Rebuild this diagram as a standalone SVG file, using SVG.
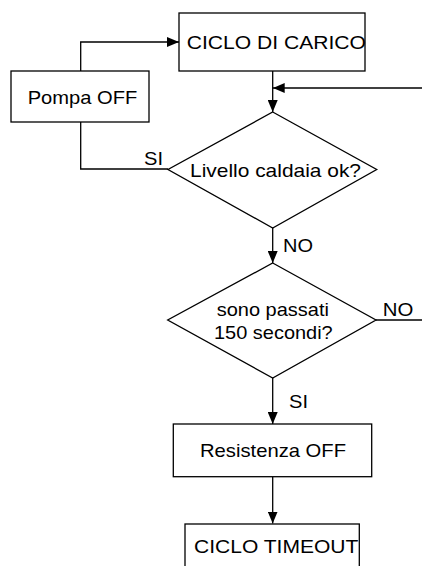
<svg xmlns="http://www.w3.org/2000/svg" width="422" height="566" viewBox="0 0 422 566">
<style>
.shape{fill:#fff;stroke:#000;stroke-width:1.3}
.line{fill:none;stroke:#000;stroke-width:1.3}
text{font-family:"Liberation Sans",Arial,sans-serif;font-size:18.6px;fill:#000}
</style>
<defs>
<marker id="arr" viewBox="0 0 12 10" refX="12" refY="5" markerWidth="12" markerHeight="10" markerUnits="userSpaceOnUse" orient="auto">
<path d="M0,0 L12,5 L0,10 z" fill="#000"/>
</marker>
</defs>
<rect width="422" height="566" fill="#fff"/>
<g id="connectors">
<polyline class="line" points="80.7,71 80.7,42 179,42" marker-end="url(#arr)"/>
<polyline class="line" points="80.7,122 80.7,169 168,169"/>
<line class="line" x1="272.7" y1="71" x2="272.7" y2="112" marker-end="url(#arr)"/>
<line class="line" x1="422" y1="88" x2="272.7" y2="88" marker-end="url(#arr)"/>
<line class="line" x1="272.7" y1="228" x2="272.7" y2="263" marker-end="url(#arr)"/>
<line class="line" x1="376" y1="320" x2="422" y2="320"/>
<line class="line" x1="272.7" y1="378" x2="272.7" y2="424" marker-end="url(#arr)"/>
<line class="line" x1="272.7" y1="477" x2="272.7" y2="523.5" marker-end="url(#arr)"/>
<text x="144" y="164.5" textLength="19" lengthAdjust="spacingAndGlyphs">SI</text>
<text x="283" y="251.5" textLength="30" lengthAdjust="spacingAndGlyphs">NO</text>
<text x="382.7" y="316" textLength="30.6" lengthAdjust="spacingAndGlyphs">NO</text>
<text x="289" y="408.3" textLength="19" lengthAdjust="spacingAndGlyphs">SI</text>
</g>
<g id="ciclo-carico">
<rect class="shape" x="179" y="13" width="186" height="58"/>
<text x="186.7" y="49" textLength="179.3" lengthAdjust="spacingAndGlyphs">CICLO DI CARICO</text>
</g>
<g id="pompa-off">
<rect class="shape" x="11" y="71" width="138" height="51"/>
<text x="27.7" y="103.5" textLength="109.6" lengthAdjust="spacingAndGlyphs">Pompa OFF</text>
</g>
<g id="livello-caldaia">
<polygon class="shape" points="272.7,112 376.7,169.5 272.7,228 168,169.5"/>
<text x="190" y="176.7" textLength="171" lengthAdjust="spacingAndGlyphs">Livello caldaia ok?</text>
</g>
<g id="passati-150">
<polygon class="shape" points="272.7,263 376,320 272.7,378 167.7,320"/>
<text x="216.7" y="316" textLength="112.3" lengthAdjust="spacingAndGlyphs">sono passati</text>
<text x="214" y="339.3" textLength="118.7" lengthAdjust="spacingAndGlyphs">150 secondi?</text>
</g>
<g id="resistenza-off">
<rect class="shape" x="173.3" y="424" width="198.4" height="52.7"/>
<text x="200" y="457.3" textLength="146" lengthAdjust="spacingAndGlyphs">Resistenza OFF</text>
</g>
<g id="ciclo-timeout">
<rect class="shape" x="185" y="524" width="174.3" height="60"/>
<text x="194" y="553.3" textLength="164.3" lengthAdjust="spacingAndGlyphs">CICLO TIMEOUT</text>
</g>
</svg>
